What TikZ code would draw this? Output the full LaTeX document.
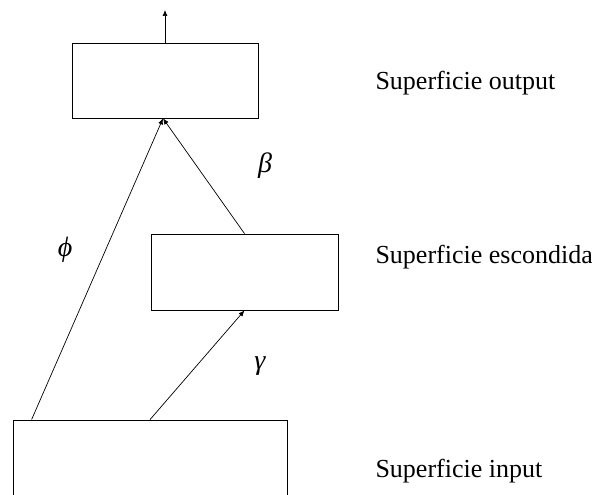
\documentclass[tikz,border=0pt]{standalone}
\usepackage{fontspec}
\setmainfont{Liberation Serif}
\usetikzlibrary{arrows.meta,positioning}

\begin{document}
\begin{tikzpicture}[
  x=1pt, y=-1pt,
  >={Latex[length=6pt,width=5pt]},
  layerblock/.style={draw, line width=0.8pt, inner sep=0pt},
  arrow/.style={line width=0.7pt,->},
  layerlabel/.style={anchor=base west, font=\fontsize{26}{30}\selectfont},
  greeklabel/.style={font=\fontsize{28}{32}\selectfont\itshape}
  ]

  \clip (0,0) rectangle (592,495);

  % Layers
  \node[layerblock, minimum width=186pt, minimum height=75pt] (out) at (165,80.5) {};
  \node[layerblock, minimum width=187pt, minimum height=76pt] (hid) at (244.5,272) {};
  \node[layerblock, minimum width=274pt, minimum height=100pt] (inp) at (150,470) {};
  \coordinate (top) at (165,10);

  % Layer names
  \node[layerlabel] (outname) at (372,90) {Superficie output};
  \node[layerlabel] (hidname) at (372,263) {Superficie escondida};
  \node[layerlabel] (inpname) at (372,477) {Superficie input};

  % Connections
  \draw[arrow] (out.north) -- (top);
  \draw[arrow] ([xshift=19pt]inp.north west) -- ([xshift=-2pt]out.south);
  \draw[arrow] (hid.north) -- ([xshift=-2pt]out.south);
  \draw[arrow] (inp.north) -- (hid.south);

  % Weights
  \node[greeklabel] (phi) at (65,250) {ϕ};
  \node[greeklabel] (beta) at (265,166) {β};
  \node[greeklabel] (gamma) at (260,366) {γ};

\end{tikzpicture}
\end{document}
